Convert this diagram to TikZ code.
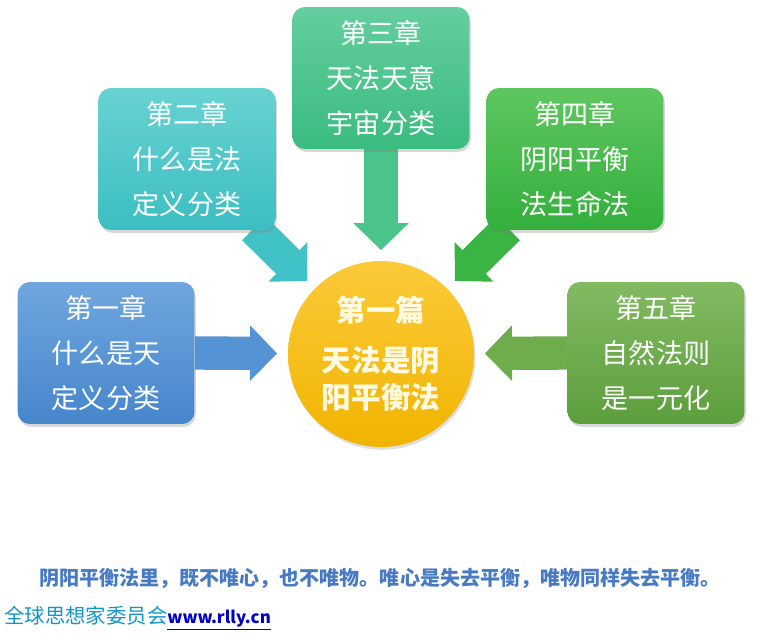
\documentclass[tikz,border=0pt]{standalone}
\usepackage{fontspec}
\setmainfont{Noto Sans CJK SC}
\usepackage{tikz}
\usetikzlibrary{arrows.meta,shadows,calc}

\definecolor{blueA}{RGB}{112,166,223}
\definecolor{blueB}{RGB}{70,134,203}
\definecolor{tealA}{RGB}{104,210,210}
\definecolor{tealB}{RGB}{60,190,194}
\definecolor{mintA}{RGB}{100,206,158}
\definecolor{mintB}{RGB}{58,188,128}
\definecolor{greenA}{RGB}{94,198,96}
\definecolor{greenB}{RGB}{52,175,60}
\definecolor{oliveA}{RGB}{130,186,98}
\definecolor{oliveB}{RGB}{92,158,60}
\definecolor{sunA}{RGB}{252,202,58}
\definecolor{sunB}{RGB}{240,180,0}
\definecolor{notetext}{RGB}{72,122,196}
\definecolor{sitetext}{RGB}{20,150,200}
\definecolor{linktext}{RGB}{0,0,200}

\pgfdeclarelayer{bg}
\pgfsetlayers{bg,main}

\begin{document}
\begin{tikzpicture}[x=0.02cm, y=-0.02cm]
\tikzstyle{chap} = [rectangle, rounded corners=7pt, minimum width=3.54cm, minimum height=2.84cm, align=center, text=white, font=\fontsize{15.4}{25.6}\selectfont, drop shadow={opacity=0.3, shadow xshift=0.8pt, shadow yshift=-1.6pt}]
\tikzstyle{barrow} = [line width=19pt, -{Triangle[length=15.4pt, width=30.7pt]}, shorten >=6pt]

\node (pian) [circle, minimum size=3.72cm, top color=sunA, bottom color=sunB, align=center, text={rgb,255:red,255;green,250;blue,225}, font=\bfseries\fontsize{16.8}{21}\selectfont, drop shadow={opacity=0.25, shadow xshift=0.8pt, shadow yshift=-1.6pt}] at (381,354) {第一篇\\[7.5pt]天法是阴\\阳平衡法};

\node (ch1) [chap, top color=blueA, bottom color=blueB] at (106,353) {第一章\\什么是天\\定义分类};
\node (ch2) [chap, top color=tealA, bottom color=tealB] at (187,159) {第二章\\什么是法\\定义分类};
\node (ch3) [chap, top color=mintA, bottom color=mintB] at (381,78) {第三章\\天法天意\\宇宙分类};
\node (ch4) [chap, top color=greenA, bottom color=greenB] at (575,159) {第四章\\阴阳平衡\\法生命法};
\node (ch5) [chap, top color=oliveA, bottom color=oliveB] at (656,353) {第五章\\自然法则\\是一元化};

\node (note) at (380,578) {\color{notetext}\bfseries\fontsize{11.4}{14}\selectfont 阴阳平衡法里，既不唯心，也不唯物。唯心是失去平衡，唯物同样失去平衡。};
\node (site) [anchor=west, inner sep=0pt] at (4,618) {\fontsize{11.6}{14}\selectfont\textcolor{sitetext}{全球思想家委员会}\textcolor{linktext}{\fontsize{9.6}{14}\selectfont\bfseries\underline{www.rlly.cn}}};

\begin{pgfonlayer}{bg}
\path[use as bounding box, fill=white] (0,0) rectangle (764,633);
\draw[barrow, draw={rgb,255:red,84;green,148;blue,212}] (ch1.east) -- (pian);
\draw[barrow, draw={rgb,255:red,110;green,172;blue,76}] (ch5.west) -- (pian);
\draw[barrow, draw={rgb,255:red,74;green,196;blue,138}] (ch3.south) -- (pian);
\draw[barrow, draw={rgb,255:red,64;green,194;blue,198}] ($(ch2.south east)+(-22,-2)$) -- (pian);
\draw[barrow, draw={rgb,255:red,58;green,180;blue,66}] ($(ch4.south west)+(22,-2)$) -- (pian);
\end{pgfonlayer}
\end{tikzpicture}
\end{document}
